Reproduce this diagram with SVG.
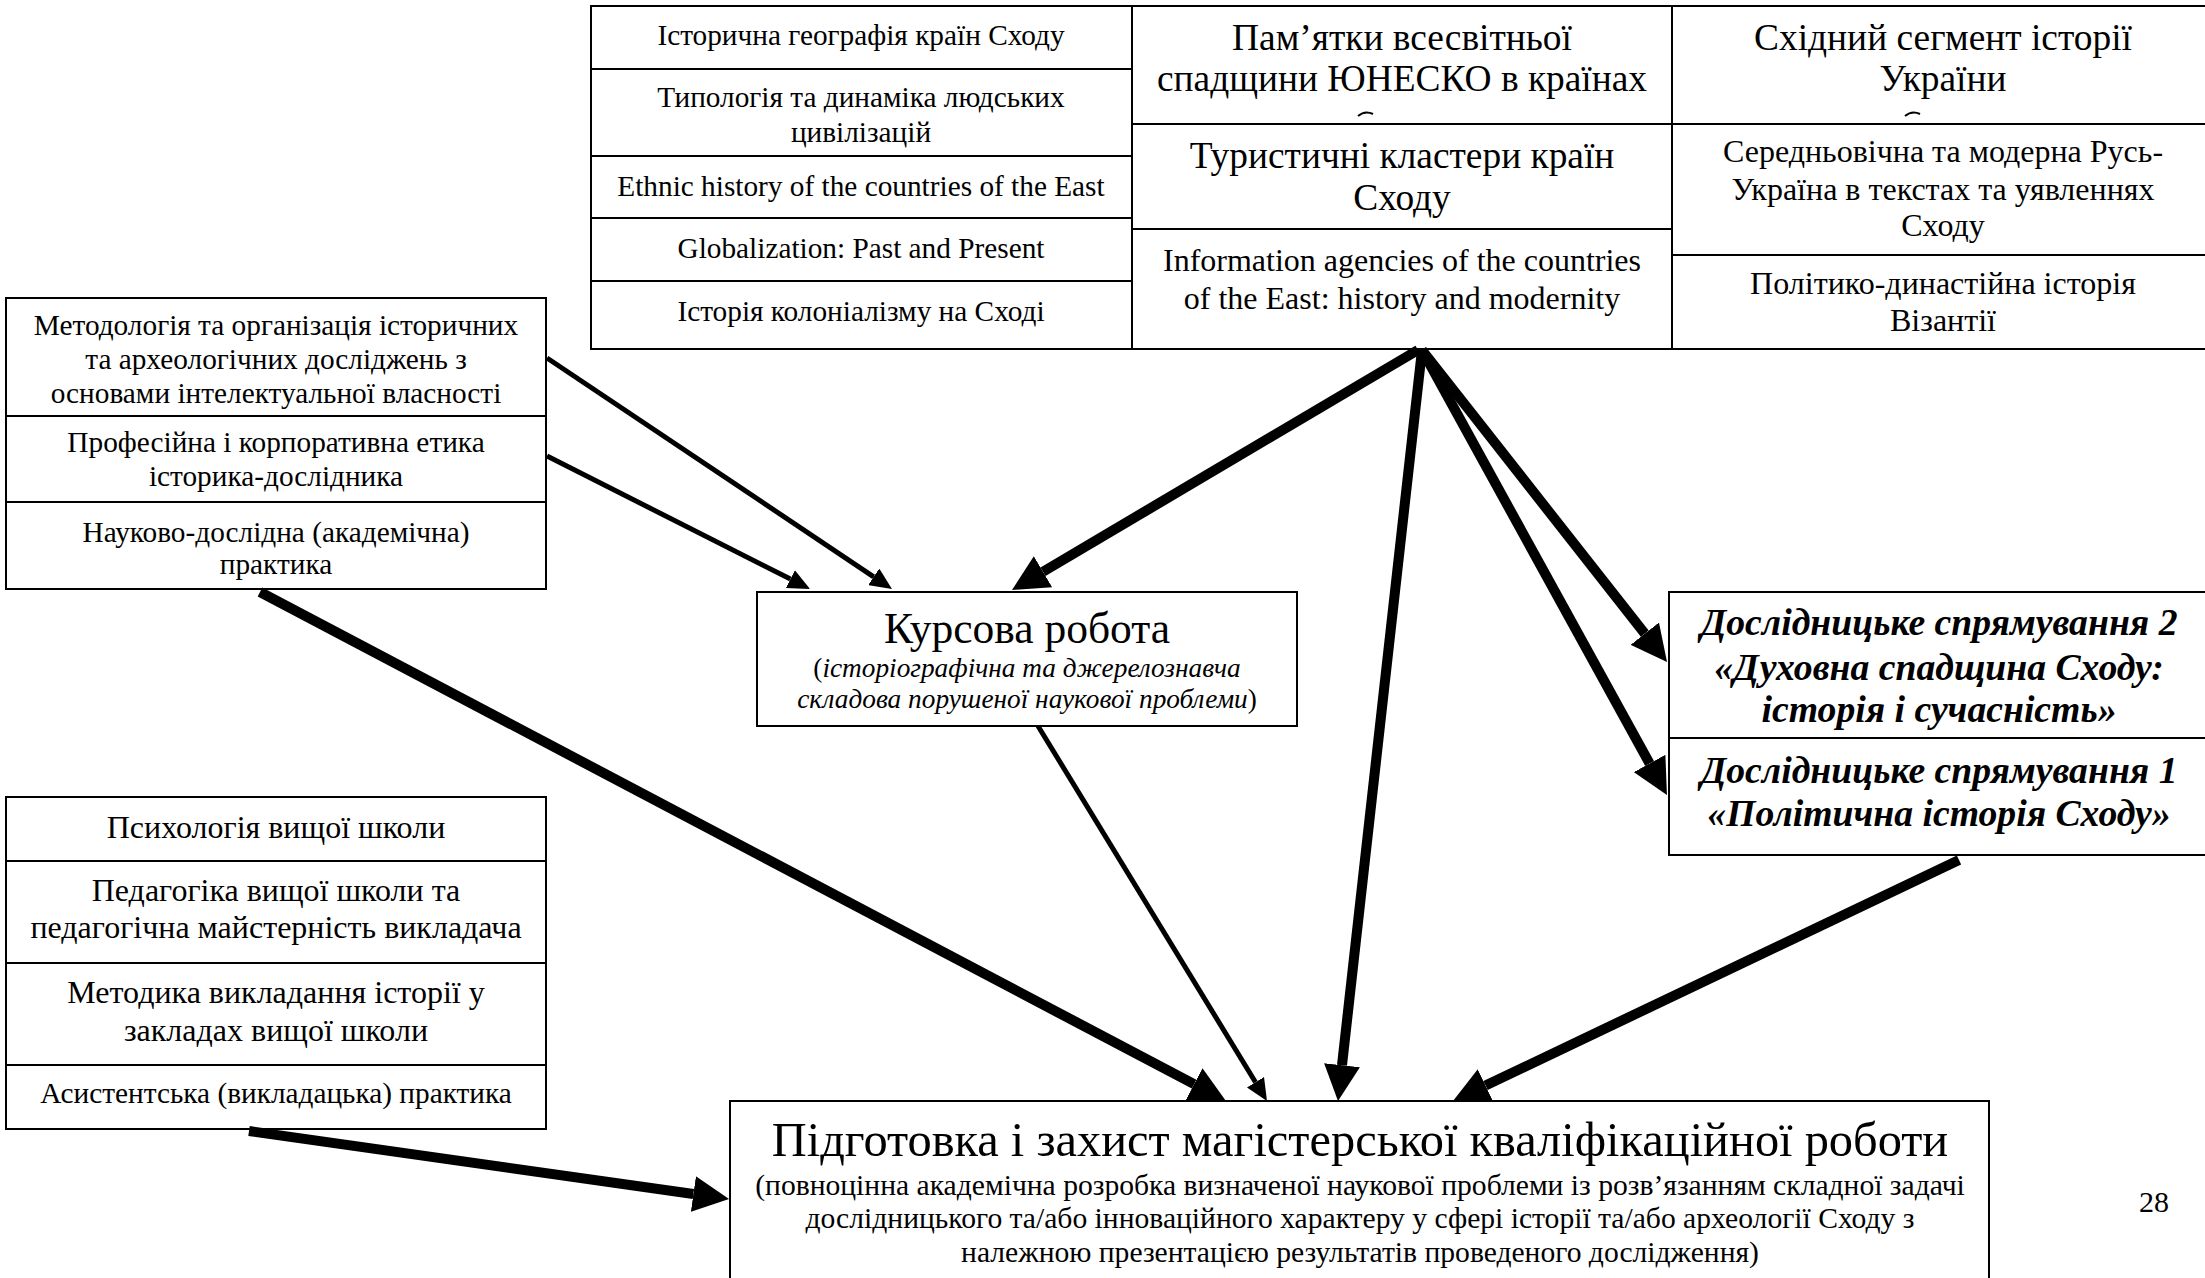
<svg xmlns="http://www.w3.org/2000/svg" width="2205" height="1278" viewBox="0 0 2205 1278">
<style>
.bg{fill:#ffffff}
.box{fill:#ffffff;stroke:#000000;stroke-width:2}
.t{font-family:"Liberation Serif","Times New Roman",serif;text-anchor:middle;fill:#000000}
.s29{font-size:29.3px}
.s32{font-size:32px}
.s37{font-size:37.4px}
.s27i{font-size:27.3px;font-style:italic}
.s43{font-size:43.5px}
.s49{font-size:48.4px}
.s30{font-size:29.6px}
.bi{font-size:37.7px;font-weight:bold;font-style:italic}
.mark{fill:none;stroke:#000000;stroke-width:2}
.thin{fill:none;stroke:#000000;stroke-width:5;marker-end:url(#ahThin)}
.thick{fill:none;stroke:#000000;stroke-width:10;marker-end:url(#ahThick)}
</style>
<defs>
<marker id="ahThick" markerUnits="userSpaceOnUse" markerWidth="36" markerHeight="36" viewBox="0 0 36 36" refX="0" refY="18" orient="auto"><path d="M0,0 L36,18 L0,36 z" fill="#000000"/></marker>
<marker id="ahThin" markerUnits="userSpaceOnUse" markerWidth="22" markerHeight="20" viewBox="0 0 22 20" refX="0" refY="10" orient="auto"><path d="M0,0 L22,10 L0,20 z" fill="#000000"/></marker>
</defs>
<rect class="bg" x="0" y="0" width="2205" height="1278"/>

<g id="top-table">
<g id="n-hist-geo"><rect class="box" x="591" y="6" width="541" height="63"/><text class="t s29" x="861" y="45">Історична географія країн Сходу</text></g>
<g id="n-typology"><rect class="box" x="591" y="69" width="541" height="87"/><text class="t s29" x="861" y="107">Типологія та динаміка людських</text><text class="t s29" x="861" y="142">цивілізацій</text></g>
<g id="n-ethnic"><rect class="box" x="591" y="156" width="541" height="62"/><text class="t s29" x="861" y="196">Ethnic history of the countries of the East</text></g>
<g id="n-global"><rect class="box" x="591" y="218" width="541" height="63"/><text class="t s29" x="861" y="258">Globalization: Past and Present</text></g>
<g id="n-colonial"><rect class="box" x="591" y="281" width="541" height="68"/><text class="t s29" x="861" y="321">Історія колоніалізму на Сході</text></g>

<g id="n-unesco"><rect class="box" x="1132" y="6" width="540" height="118"/><text class="t s37" x="1402" y="50">Пам’ятки всесвітньої</text><text class="t s37" x="1402" y="91">спадщини ЮНЕСКО в країнах</text><path class="mark" d="M1358,116 Q1365,110 1373,114"/></g>
<g id="n-tourism"><rect class="box" x="1132" y="124" width="540" height="105"/><text class="t s37" x="1402" y="168">Туристичні кластери країн</text><text class="t s37" x="1402" y="210">Сходу</text></g>
<g id="n-agencies"><rect class="box" x="1132" y="229" width="540" height="120"/><text class="t s32" x="1402" y="271">Information agencies of the countries</text><text class="t s32" x="1402" y="309">of the East: history and modernity</text></g>

<g id="n-east-ukr"><rect class="box" x="1672" y="6" width="545" height="118"/><text class="t s37" x="1943" y="50">Східний сегмент історії</text><text class="t s37" x="1943" y="91">України</text><path class="mark" d="M1905,116 Q1912,110 1920,114"/></g>
<g id="n-rus"><rect class="box" x="1672" y="124" width="545" height="131"/><text class="t s32" x="1943" y="162">Середньовічна та модерна Русь-</text><text class="t s32" x="1943" y="200">Україна в текстах та уявленнях</text><text class="t s32" x="1943" y="236">Сходу</text></g>
<g id="n-byz"><rect class="box" x="1672" y="255" width="545" height="94"/><text class="t s32" x="1943" y="294">Політико-династійна історія</text><text class="t s32" x="1943" y="331">Візантії</text></g>
</g>

<g id="left-research">
<g id="n-method"><rect class="box" x="6" y="298" width="540" height="118"/><text class="t s29" x="276" y="335">Методологія та організація історичних</text><text class="t s29" x="276" y="369">та археологічних досліджень з</text><text class="t s29" x="276" y="403">основами інтелектуальної власності</text></g>
<g id="n-ethics"><rect class="box" x="6" y="416" width="540" height="86"/><text class="t s29" x="276" y="452">Професійна і корпоративна етика</text><text class="t s29" x="276" y="486">історика-дослідника</text></g>
<g id="n-practice"><rect class="box" x="6" y="502" width="540" height="87"/><text class="t s29" x="276" y="542">Науково-дослідна (академічна)</text><text class="t s29" x="276" y="574">практика</text></g>
</g>

<g id="left-teaching">
<g id="n-psych"><rect class="box" x="6" y="797" width="540" height="64"/><text class="t s32" x="276" y="838">Психологія вищої школи</text></g>
<g id="n-pedag"><rect class="box" x="6" y="861" width="540" height="102"/><text class="t s32" x="276" y="901">Педагогіка вищої школи та</text><text class="t s32" x="276" y="938">педагогічна майстерність викладача</text></g>
<g id="n-metod"><rect class="box" x="6" y="963" width="540" height="102"/><text class="t s32" x="276" y="1003">Методика викладання історії у</text><text class="t s32" x="276" y="1041">закладах вищої школи</text></g>
<g id="n-assist"><rect class="box" x="6" y="1065" width="540" height="64"/><text class="t s29" x="276" y="1103">Асистентська (викладацька) практика</text></g>
</g>

<g id="n-kursova"><rect class="box" x="757" y="592" width="540" height="134"/><text class="t s43" x="1027" y="643">Курсова робота</text><text class="t s27i" x="1027" y="677"><tspan font-style="normal">(</tspan>історіографічна та джерелознавча</text><text class="t s27i" x="1027" y="708">складова порушеної наукової проблеми<tspan font-style="normal">)</tspan></text></g>

<g id="directions">
<g id="n-dir2"><rect class="box" x="1669" y="592" width="545" height="146"/><text class="t bi" x="1939" y="635">Дослідницьке спрямування 2</text><text class="t bi" x="1939" y="680">«Духовна спадщина Сходу:</text><text class="t bi" x="1939" y="722">історія і сучасність»</text></g>
<g id="n-dir1"><rect class="box" x="1669" y="738" width="545" height="117"/><text class="t bi" x="1939" y="783">Дослідницьке спрямування 1</text><text class="t bi" x="1939" y="826">«Політична історія Сходу»</text></g>
</g>

<g id="n-thesis"><rect class="box" x="730" y="1101" width="1259" height="190"/><text class="t s49" x="1360" y="1156">Підготовка і захист магістерської кваліфікаційної роботи</text><text class="t s30" x="1360" y="1195">(повноцінна академічна розробка визначеної наукової проблеми із розв’язанням складної задачі</text><text class="t s30" x="1360" y="1228">дослідницького та/або інноваційного характеру у сфері історії та/або археології Сходу з</text><text class="t s30" x="1360" y="1262">належною презентацією результатів проведеного дослідження)</text></g>

<g id="page-number"><text class="t" style="font-size:30px" x="2154" y="1212">28</text></g>

<g id="connectors">
<line class="thin" x1="547" y1="358" x2="873.7" y2="576.8"/>
<line class="thin" x1="547" y1="456" x2="790.4" y2="579.1"/>
<line class="thin" x1="1038" y1="726" x2="1255.5" y2="1082.2"/>
<line class="thick" x1="260" y1="592" x2="1194.1" y2="1084.2"/>
<line class="thick" x1="249" y1="1131" x2="693.4" y2="1194"/>
<line class="thick" x1="1418" y1="350" x2="1043" y2="571.7"/>
<line class="thick" x1="1422" y1="350" x2="1342" y2="1065.2"/>
<line class="thick" x1="1422" y1="350" x2="1644.8" y2="633.7"/>
<line class="thick" x1="1422" y1="350" x2="1649.6" y2="763.5"/>
<line class="thick" x1="1959" y1="860" x2="1485.5" y2="1085.5"/>
</g>
</svg>
